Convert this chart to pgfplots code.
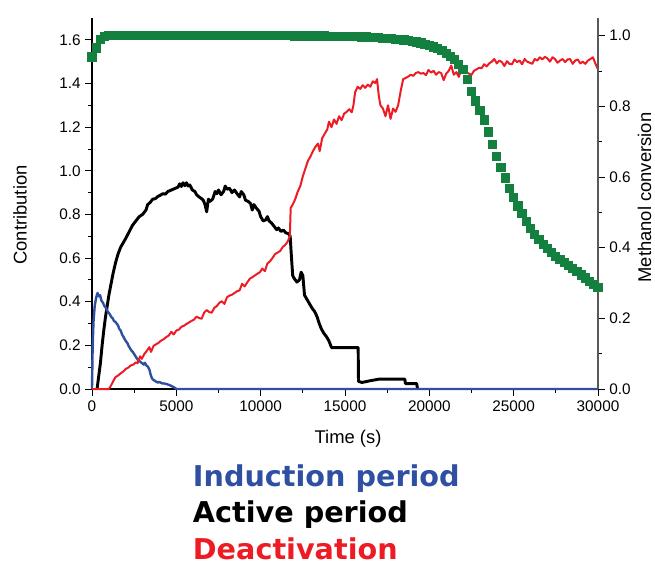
\documentclass[border=0pt]{standalone}
\usepackage{fontspec}
\setmainfont{Liberation Sans}
\newfontfamily\legfont{DejaVu Sans}
\usepackage{pgfplots}
\usepackage{pgfplotstable}
\pgfplotsset{compat=1.18}
\definecolor{cblue}{RGB}{47,79,162}
\definecolor{cred}{RGB}{237,28,36}
\definecolor{cgreen}{RGB}{19,128,64}

\pgfplotstableread{
t v
0 0.000
40 0.200
90 0.310
160 0.380
250 0.420
330 0.440
400 0.425
480 0.430
560 0.405
650 0.395
740 0.380
820 0.372
900 0.360
980 0.350
1060 0.342
1140 0.330
1220 0.325
1300 0.312
1380 0.308
1460 0.300
1540 0.292
1620 0.275
1700 0.268
1780 0.250
1860 0.240
1940 0.228
2020 0.218
2100 0.210
2180 0.196
2260 0.186
2340 0.176
2420 0.170
2500 0.160
2580 0.150
2660 0.140
2740 0.132
2820 0.128
2900 0.122
2980 0.118
3060 0.112
3140 0.120
3220 0.108
3300 0.104
3400 0.090
3480 0.065
3560 0.048
3640 0.042
3720 0.038
3800 0.034
3900 0.030
4000 0.032
4150 0.026
4300 0.025
4450 0.022
4600 0.018
4750 0.012
4900 0.006
5000 0.000
30000 0.000
}\tabinduction

\pgfplotstableread{
t v
300 0.000
400 0.060
500 0.120
600 0.200
700 0.270
800 0.330
900 0.380
1000 0.430
1100 0.470
1250 0.530
1400 0.580
1550 0.620
1700 0.650
1850 0.670
2000 0.690
2200 0.720
2400 0.750
2600 0.770
2800 0.790
3000 0.800
3200 0.820
3300 0.845
3450 0.855
3600 0.870
3750 0.872
3900 0.882
4050 0.888
4200 0.895
4350 0.893
4500 0.905
4650 0.910
4800 0.915
4950 0.920
5100 0.925
5200 0.940
5300 0.928
5400 0.945
5500 0.932
5600 0.945
5700 0.930
5800 0.935
5950 0.912
6100 0.905
6200 0.890
6350 0.880
6500 0.872
6600 0.865
6700 0.845
6800 0.812
6900 0.870
7000 0.860
7150 0.870
7300 0.905
7400 0.895
7500 0.912
7650 0.890
7800 0.905
7900 0.930
8000 0.915
8150 0.920
8300 0.900
8450 0.912
8600 0.895
8750 0.880
8850 0.905
9000 0.890
9100 0.865
9250 0.860
9400 0.850
9500 0.820
9600 0.845
9750 0.828
9900 0.815
10000 0.790
10150 0.770
10300 0.775
10400 0.790
10500 0.770
10650 0.760
10800 0.745
10950 0.730
11050 0.738
11200 0.722
11350 0.728
11500 0.715
11650 0.712
11750 0.700
11820 0.610
11900 0.520
12000 0.505
12150 0.490
12300 0.500
12400 0.535
12500 0.520
12600 0.430
12750 0.410
12900 0.390
13050 0.370
13200 0.355
13350 0.330
13450 0.305
13600 0.275
13750 0.255
13900 0.240
14050 0.220
14200 0.190
15780 0.190
15800 0.035
16000 0.030
16500 0.038
17000 0.045
18550 0.045
18580 0.025
19250 0.025
19300 0.000
}\tabactive

\pgfplotstableread{
t v
0 0.000
1000 0.000
1100 0.012
1250 0.035
1400 0.055
1550 0.062
1700 0.072
1850 0.080
2000 0.092
2150 0.098
2300 0.108
2450 0.112
2600 0.122
2700 0.118
2850 0.150
2950 0.138
3100 0.160
3250 0.175
3400 0.192
3500 0.170
3650 0.198
3800 0.205
3950 0.212
4100 0.222
4250 0.228
4400 0.238
4550 0.245
4700 0.262
4850 0.250
5000 0.268
5150 0.272
5300 0.285
5450 0.290
5600 0.298
5750 0.305
5900 0.312
6050 0.318
6200 0.332
6350 0.325
6500 0.322
6650 0.350
6800 0.362
6950 0.352
7100 0.350
7250 0.372
7400 0.380
7550 0.395
7700 0.402
7850 0.390
8000 0.420
8150 0.428
8300 0.432
8450 0.440
8600 0.448
8750 0.452
8900 0.482
9050 0.470
9200 0.488
9350 0.505
9500 0.512
9650 0.520
9800 0.528
9950 0.535
10100 0.552
10250 0.540
10400 0.575
10550 0.585
10700 0.600
10850 0.618
11000 0.625
11150 0.632
11300 0.650
11450 0.660
11600 0.675
11730 0.700
11780 0.830
11900 0.845
12050 0.870
12200 0.905
12350 0.930
12500 0.975
12650 1.010
12800 1.045
12950 1.065
13100 1.090
13250 1.110
13400 1.125
13500 1.090
13650 1.150
13800 1.170
13950 1.190
14050 1.225
14200 1.200
14350 1.235
14500 1.215
14650 1.250
14800 1.232
14950 1.262
15100 1.270
15250 1.282
15400 1.268
15500 1.300
15600 1.360
15750 1.385
15900 1.375
16050 1.392
16200 1.380
16350 1.395
16500 1.385
16650 1.410
16800 1.402
16900 1.420
17000 1.345
17100 1.300
17250 1.285
17400 1.250
17550 1.300
17700 1.238
17850 1.285
18000 1.270
18150 1.300
18300 1.365
18450 1.420
18600 1.425
18750 1.432
18900 1.440
19050 1.435
19200 1.448
19350 1.452
19500 1.445
19650 1.448
19800 1.438
19950 1.462
20100 1.450
20250 1.458
20400 1.440
20550 1.452
20700 1.448
20850 1.415
21000 1.445
21150 1.458
21300 1.482
21450 1.440
21600 1.452
21750 1.430
21900 1.468
22050 1.478
22200 1.452
22350 1.445
22500 1.440
22650 1.458
22800 1.465
22950 1.472
23100 1.470
23250 1.488
23400 1.478
23550 1.492
23700 1.500
23850 1.512
24000 1.492
24150 1.505
24300 1.498
24450 1.480
24600 1.502
24750 1.490
24900 1.488
25050 1.510
25200 1.498
25350 1.505
25500 1.488
25650 1.512
25800 1.500
25950 1.495
26100 1.490
26250 1.512
26400 1.505
26550 1.520
26700 1.510
26850 1.522
27000 1.515
27150 1.500
27300 1.520
27450 1.512
27600 1.495
27750 1.505
27900 1.512
28050 1.498
28200 1.510
28350 1.512
28500 1.490
28650 1.505
28800 1.510
28950 1.492
29100 1.500
29250 1.490
29400 1.505
29550 1.512
29700 1.520
29850 1.490
30000 1.465
}\tabdeact

\pgfplotstableread{
t v
0 0.940
250 0.965
500 0.990
750 0.997
1000 1.000
1250 1.000
1500 1.000
1750 1.000
2000 1.000
2250 1.000
2500 1.000
2750 1.000
3000 1.000
3250 1.000
3500 1.000
3750 1.000
4000 1.000
4250 1.000
4500 1.000
4750 1.000
5000 1.000
5250 1.000
5500 1.000
5750 1.000
6000 1.000
6250 1.000
6500 1.000
6750 1.000
7000 1.000
7250 1.000
7500 1.000
7750 1.000
8000 1.000
8250 1.000
8500 1.000
8750 1.000
9000 1.000
9250 1.000
9500 1.000
9750 1.000
10000 1.000
10250 1.000
10500 1.000
10750 1.000
11000 1.000
11250 1.000
11500 1.000
11750 1.000
12000 0.999
12250 0.999
12500 0.999
12750 0.999
13000 0.999
13250 0.999
13500 0.999
13750 0.999
14000 0.998
14250 0.998
14500 0.998
14750 0.998
15000 0.998
15250 0.997
15500 0.997
15750 0.997
16000 0.996
16250 0.996
16500 0.995
16750 0.995
17000 0.994
17250 0.993
17500 0.992
17750 0.991
18000 0.990
18250 0.989
18500 0.988
18750 0.986
19000 0.984
19250 0.982
19500 0.979
19750 0.976
20000 0.972
20250 0.968
20500 0.963
20750 0.957
21000 0.950
21250 0.942
21500 0.932
21750 0.919
22000 0.904
22250 0.875
22500 0.843
22750 0.815
23000 0.788
23250 0.761
23500 0.727
23750 0.693
24000 0.659
24250 0.627
24500 0.597
24750 0.568
25000 0.542
25250 0.518
25500 0.496
25750 0.475
26000 0.455
26250 0.438
26500 0.423
26750 0.409
27000 0.397
27250 0.386
27500 0.376
27750 0.366
28000 0.357
28250 0.349
28500 0.342
28750 0.333
29000 0.323
29250 0.314
29500 0.305
29750 0.296
30000 0.288
}\tabconversion

\pgfplotsset{common/.style={
  scale only axis, width=379.5pt, height=278.25pt,
  xmin=0, xmax=30000, clip=false,
  tick align=outside, major tick length=5pt, minor tick length=3pt,
  tick style={black, line width=0.6pt},
  axis line style={line width=0.8pt},
  /pgf/number format/assume math mode=true,
  ticklabel style={font=\fontsize{11.5}{13}\selectfont},
  label style={font=\fontsize{13.8}{16}\selectfont},
}}

\begin{document}
\begin{tikzpicture}
\begin{axis}[common, name=ax,
  ymin=0, ymax=1.70,
  axis x line*=bottom, axis y line*=left,
  xtick={0,5000,10000,15000,20000,25000,30000}, minor x tick num=1,
  ytick={0,0.2,0.4,0.6,0.8,1.0,1.2,1.4,1.6}, minor y tick num=1,
  scaled x ticks=false,
  xticklabel style={/pgf/number format/1000 sep={}},
  yticklabel style={/pgf/number format/fixed, /pgf/number format/fixed zerofill, /pgf/number format/precision=1},
  xlabel={Time (s)}, ylabel={Contribution},
  xlabel style={at={(axis description cs:0.506,-0.134)}, anchor=center},
  ylabel style={at={(axis description cs:-0.142,0.469)}, anchor=center},
]
\addplot[black, line width=2.2pt, line join=round] table[x=t, y=v] {\tabactive};
\addplot[cblue, line width=1.8pt, line join=round] table[x=t, y=v] {\tabinduction};
\addplot[cred, line width=1.5pt, line join=round] table[x=t, y=v] {\tabdeact};
\end{axis}
\begin{axis}[common,
  ymin=0, ymax=1.05,
  axis x line=none, axis y line*=right,
  ytick={0,0.2,0.4,0.6,0.8,1.0}, minor y tick num=1,
  y axis line style={gray!70!black},
  yticklabel style={/pgf/number format/fixed, /pgf/number format/fixed zerofill, /pgf/number format/precision=1},
  ylabel={Methanol conversion},
  ylabel style={at={(axis description cs:1.092,0.516)}, anchor=center},
]
\addplot[only marks, mark=square*, mark size=3.1pt, mark options={fill=cgreen, draw=cgreen, line width=0pt}] table[x=t, y=v] {\tabconversion};
\end{axis}
\node[anchor=base west, inner sep=0pt, text=cblue, font=\legfont\bfseries\fontsize{21.5}{24}\selectfont] at ([shift={(75.5pt,-73pt)}]ax.south west) {Induction period};
\node[anchor=base west, inner sep=0pt, text=black, font=\legfont\bfseries\fontsize{21.5}{24}\selectfont] at ([shift={(75.5pt,-100.2pt)}]ax.south west) {Active period};
\node[anchor=base west, inner sep=0pt, text=cred, font=\legfont\bfseries\fontsize{21.5}{24}\selectfont] at ([shift={(75.5pt,-127.8pt)}]ax.south west) {Deactivation};
\pgfresetboundingbox
\path[use as bounding box] ([shift={(-69pt,-132pt)}]ax.south west) rectangle ([shift={(42.75pt,13.5pt)}]ax.north east);
\end{tikzpicture}
\end{document}
